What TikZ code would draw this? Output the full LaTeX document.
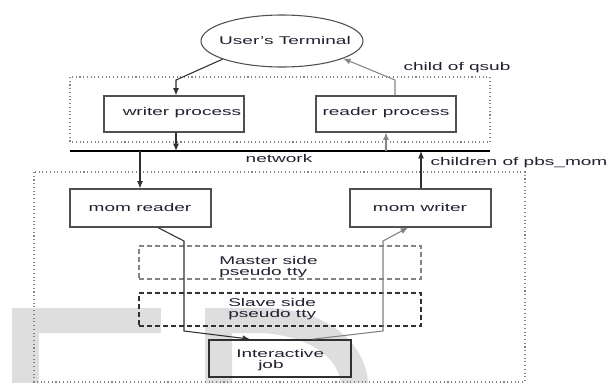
\documentclass[tikz,border=0pt]{standalone}
\usepackage{fontspec}
\setmainfont{Liberation Sans}
\usepackage{graphicx}
\usetikzlibrary{arrows.meta,shapes.geometric}
\newcommand{\wt}[1]{\scalebox{1.7}[1]{#1}}
\newcommand{\twol}[2]{\scalebox{1.7}[1]{\begin{tabular}{@{}l@{}}#1\\[-1.75pt]#2\end{tabular}}}
\definecolor{txt}{HTML}{202030}
\definecolor{boxc}{HTML}{505050}
\definecolor{linec}{HTML}{303030}
\definecolor{lgray}{HTML}{858585}
\definecolor{wmc}{HTML}{DEDEDE}
\begin{document}
\begin{tikzpicture}[x=0.75pt,y=-0.75pt,
  font=\fontsize{8.4}{10}\selectfont,
  pbox/.style={draw=boxc, line width=0.9pt, minimum width=105pt, minimum height=27pt, inner sep=0pt},
  lbl/.style={inner sep=0pt, text=txt},
  arr/.style={draw=linec, line width=0.8pt, -{Latex[length=5.5pt,width=4.5pt]}},
  garr/.style={arr, draw=lgray},
  dotbox/.style={draw=lgray, line width=0.8pt, dotted},
  dashbox/.style={line width=0.8pt, dashed, dash pattern=on 3.5pt off 2.5pt, minimum width=211.5pt, minimum height=24.75pt, inner sep=0pt}]
\path[use as bounding box] (0,0) rectangle (611,383);
% watermark
\fill[wmc] (12,308) rectangle (161,333);
\fill[wmc] (12,333) rectangle (39,383);
\fill[wmc, even odd rule] (205,383) -- (205,308) -- (268,308) .. controls (330,310) and (366,345) .. (368,383) -- cycle
  (232,383) -- (232,333) -- (262,333) .. controls (310,336) and (338,358) .. (341,383) -- cycle;
% group boxes
\draw[dotbox] (70,77) rectangle (490,142);
\draw[dotbox] (34,172) rectangle (525,382);
% nodes
\node[draw=boxc, line width=0.8pt, ellipse, minimum width=121.5pt, minimum height=39pt, inner sep=0pt] (term) at (282,41) {};
\node[lbl] (termt) at (285,40) {\wt{User's Terminal}};
\node[pbox] (writer) at (174,114) {};
\node[lbl] (writert) at (182,113) {\wt{writer process}};
\node[pbox] (reader) at (386,114) {};
\node[lbl] (readert) at (386,113) {\wt{reader process}};
\node[pbox, minimum width=105.75pt, minimum height=28.5pt] (momr) at (140.5,208) {};
\node[lbl] (momrt) at (140,207) {\wt{mom reader}};
\node[pbox, minimum width=105.75pt, minimum height=28.5pt] (momw) at (420.5,208) {};
\node[lbl] (momwt) at (420,207) {\wt{mom writer}};
\node[dashbox, draw=lgray] (master) at (280,262.5) {};
\node[lbl, anchor=west] (mastert) at (219,267.5) {\twol{Master side}{pseudo tty}};
\node[dashbox, draw=linec] (slave) at (280,309.5) {};
\node[lbl, anchor=west] (slavet) at (228,309.5) {\twol{Slave side}{pseudo tty}};
\node[draw=linec, line width=1.3pt, minimum width=106.5pt, minimum height=27.75pt, inner sep=0pt] (job) at (280,358.5) {};
\node[lbl, anchor=west] (jobt) at (236,360) {\twol{Interactive}{\hspace{9.7pt}job}};
% labels
\node[lbl] (cq) at (457,68) {\wt{child of qsub}};
\node[lbl] (net) at (279,158) {\wt{network}};
\node[lbl] (cp) at (519,163) {\wt{children of pbs\_mom}};
% network line
\coordinate (netL) at (70,151);
\coordinate (netR) at (490,151);
\draw[line width=1pt, black] (netL) -- (netR);
% connectors
\coordinate (b1) at (176,80);
\draw[arr] (term.197) -- (b1) -- (b1 |- writer.north);
\coordinate (b2) at (395,80);
\draw[garr] (b2 |- reader.north) -- (b2) -- (term.-16);
\coordinate (w1) at (176,151);
\draw[arr] (w1 |- writer.south) -- (w1);
\coordinate (r1) at (386,151);
\draw[garr] (r1) -- (r1 |- reader.south);
\coordinate (n1) at (140,151);
\draw[arr] (n1) -- (n1 |- momr.north);
\coordinate (n2) at (421,151);
\draw[arr] (n2 |- momw.north) -- (n2);
\coordinate (a0) at (158,227);
\coordinate (a1) at (184,241);
\coordinate (a2) at (184,331);
\coordinate (a3) at (250,340);
\draw[arr] (a0 |- momr.south) -- (a1) -- (a2) -- (a3 |- job.north);
\coordinate (c0) at (313,340);
\coordinate (c1) at (383,331);
\coordinate (c2) at (383,241);
\coordinate (c3) at (408,227);
\draw[garr, draw=gray] (c0 |- job.north) -- (c1) -- (c2) -- (c3 |- momw.south);
\end{tikzpicture}
\end{document}
